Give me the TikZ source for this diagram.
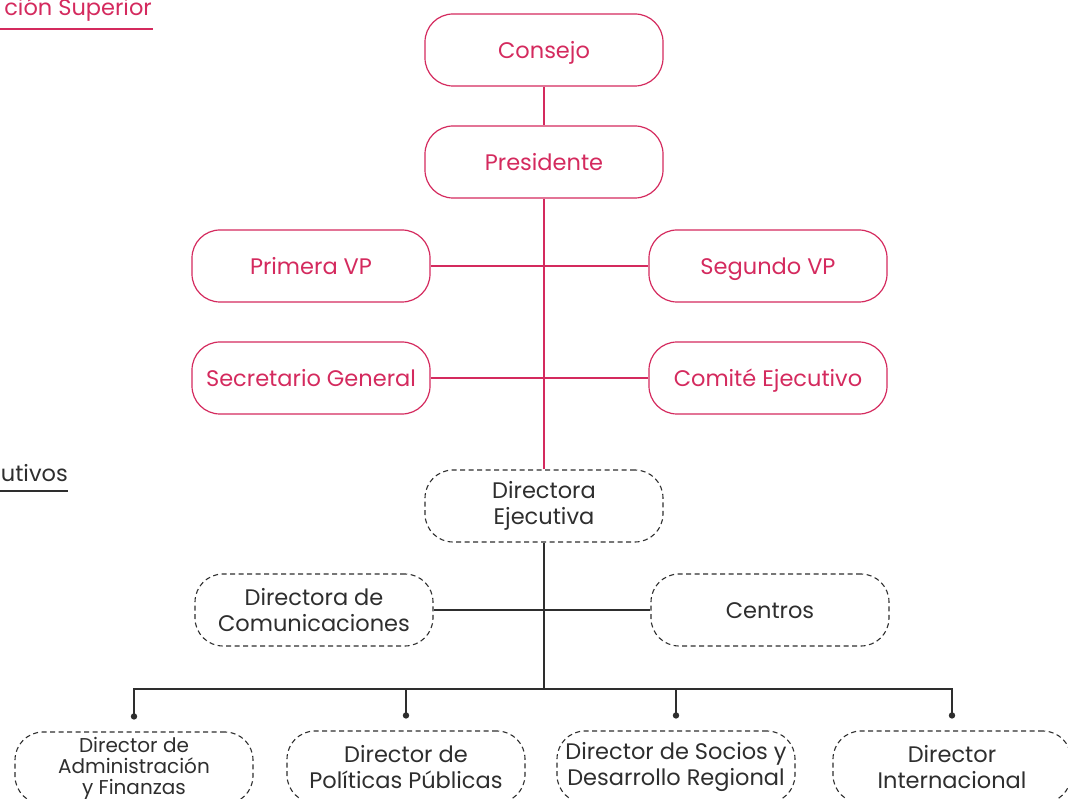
\documentclass[tikz,border=0pt]{standalone}
\usepackage{fontspec}
\setmainfont{Poppins}
\usetikzlibrary{positioning}
\definecolor{board red}{HTML}{D42A5E}
\definecolor{staff gray}{HTML}{2E2E2E}
\def\boardnodes{{(544,50)/consejo/Consejo}, {(544,162)/presidente/Presidente}, {(311,266)/primera/Primera VP}, {(768,266)/segundo/Segundo VP}, {(311,378)/secretario/Secretario General}, {(768,378)/comite/Comité Ejecutivo}}
\def\staffnodes{{(544,506)/ejecutiva/Directora\\Ejecutiva}, {(314,610)/comunicaciones/Directora de\\Comunicaciones}}
\def\directors{{(406,767)/politicas/Director de\\Políticas Públicas}, {(676,767)/socios/Director de Socios y\\Desarrollo Regional}, {(952,767)/internacional/Director\\Internacional}}
\tikzset{
  boxfont/.style={font=\fontsize{22.5}{26.5}\selectfont},
  smallfont/.style={font=\fontsize{20}{21}\selectfont},
  oneline/.style={text height=21pt, text depth=4pt}
  }
\tikzstyle{board}=[draw=board red, text=board red, rounded corners=28pt, minimum width=238pt, minimum height=72pt, line width=1.2pt, inner sep=0pt, align=center, boxfont, oneline]
\tikzstyle{staff}=[draw=staff gray, text=staff gray, dash pattern=on 5pt off 3.5pt, rounded corners=28pt, minimum width=238pt, minimum height=72pt, line width=1.1pt, inner sep=0pt, align=center, boxfont]
\tikzstyle{red edge}=[draw, board red, line width=1.2pt, -]
\tikzstyle{gray edge}=[draw, staff gray, line width=1.2pt, -]
\tikzstyle{heading}=[anchor=base east, inner sep=0pt, boxfont]

\begin{document}
\begin{tikzpicture}[x=1pt, y=-1pt]
  \useasboundingbox (0,0) rectangle (1068,799);

  % The section headings, cut at the left edge
  \node[heading, text=board red] (superior) at (152,16) {ción Superior};
  \draw[red edge] (0,29) -- (153,29);
  \node[heading, text=staff gray] (ejecutivos) at (68,481) {utivos};
  \draw[gray edge] (0,491) -- (68,491);

  % The board
  \foreach \pos/\name/\label in \boardnodes
    \node[board] (\name) at \pos {\label};

  % The staff
  \foreach \pos/\name/\label in \staffnodes
    \node[staff] (\name) at \pos {\label};
  \node[staff, oneline] (centros) at (770,610) {Centros};
  \node[staff, smallfont] (administracion) at (134,768) {Director de\\Administración\\y Finanzas};
  \foreach \pos/\name/\label in \directors
    \node[staff] (\name) at \pos {\label};

  % The connections between them
  \foreach \source/\sink in {consejo.south/presidente.north, presidente.south/ejecutiva.north, primera.east/segundo.west, secretario.east/comite.west}
    \path[red edge] (\source) -- (\sink);
  \path[gray edge] (comunicaciones.east) -- (centros.west);
  \coordinate (bus) at (544,689);
  \path[gray edge] (ejecutiva.south) -- (bus);
  \foreach \name in {administracion, politicas, socios, internacional} {
    \coordinate (\name-dot) at ([yshift=15pt]\name.north);
    \path[gray edge] (bus) -| (\name-dot);
    \fill[staff gray] (\name-dot) circle (3.2pt);
  }
\end{tikzpicture}
\end{document}
